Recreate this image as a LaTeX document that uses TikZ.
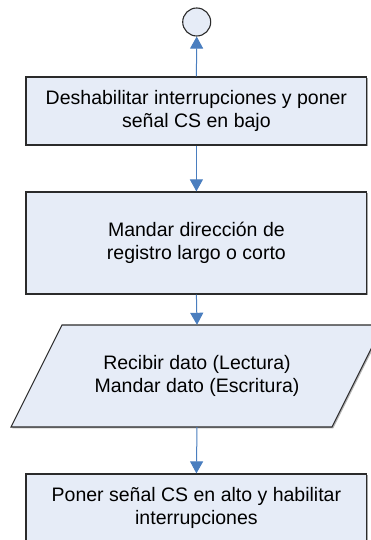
\documentclass[tikz,border=0pt]{standalone}
\usepackage{fontspec}
\setmainfont{Liberation Sans}
\usetikzlibrary{arrows.meta,shadows}
\definecolor{boxfill}{HTML}{E6ECF7}
\definecolor{boxline}{HTML}{2B2B2B}
\definecolor{arrblue}{HTML}{4A7EBF}
\tikzset{
  proc/.style={draw=boxline, line width=1.2pt, fill=boxfill, rectangle,
    minimum width=340.7pt, minimum height=68pt, inner sep=0pt, align=center,
    font=\fontsize{19.5}{23.5}\selectfont,
    drop shadow={shadow xshift=1.3pt, shadow yshift=-1.3pt, opacity=0.35, fill=black}},
  txt/.style={align=center, inner sep=0pt, font=\fontsize{19.5}{23.5}\selectfont},
  term/.style={draw=boxline, line width=1.1pt, fill=boxfill, circle, minimum size=28pt, inner sep=0pt},
  arr/.style={draw=arrblue, line width=1pt, -{Triangle[length=12pt,width=13pt]}},
  iobox/.style={draw=boxline, line width=1.1pt, fill=boxfill, line join=miter},
}
\begin{document}
\begin{tikzpicture}[x=1pt,y=1pt]
\useasboundingbox (0,0) rectangle (371,-540);
\clip (0,0) rectangle (371,-540);
\node[term] (start) at (196.7,-22) {};
\node[proc] (b1) at (196.4,-111) {Deshabilitar interrupciones y poner\\señal CS en bajo};
\node[proc, minimum height=102pt] (b2) at (196.4,-243) {Mandar dirección de\\registro largo o corto};
% parallelogram (data)
\coordinate (pnw) at (62,-325);
\coordinate (pne) at (383,-325);
\coordinate (pse) at (332,-427);
\coordinate (psw) at (11,-427);
\fill[black, opacity=0.3] ([shift={(1.3,-1.3)}]pnw) -- ([shift={(1.3,-1.3)}]pne) -- ([shift={(1.3,-1.3)}]pse) -- ([shift={(1.3,-1.3)}]psw) -- cycle;
\filldraw[iobox] (pnw) -- (pne) -- (pse) -- (psw) -- cycle;
\node[txt, minimum height=102pt, minimum width=270pt] (io) at (197,-376) {Recibir dato (Lectura)\\Mandar dato (Escritura)};
\node[proc] (b4) at (196.4,-508) {Poner señal CS en alto y habilitar\\interrupciones};
\draw[arr] (b1.north) -- (start.south);
\draw[arr] (b1.south) -- (b2.north);
\draw[arr] (b2.south) -- (io.north);
\draw[arr] (io.south) -- (b4.north);
\end{tikzpicture}
\end{document}
